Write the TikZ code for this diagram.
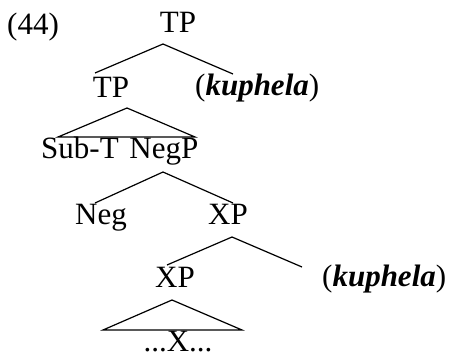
\documentclass[tikz,border=0pt]{standalone}
\usepackage{fontspec}
\setmainfont{Liberation Serif}
\begin{document}
\begin{tikzpicture}[x=1pt,y=-1pt,
  lab/.style={inner sep=0pt,anchor=base,font=\fontsize{31}{36}\selectfont},
  branch/.style={line width=1.2pt,line join=miter}]
\useasboundingbox (0,0) rectangle (453,358);
% labels
\node[lab,anchor=base west] (ex) at (7,35) {(44)};
\node[lab] (tp1) at (178,33) {TP};
\node[lab] (tp2) at (111,98) {TP};
\node[lab,anchor=base west] (ku1) at (195,96) {(\textbf{\textit{kuphela}})};
\node[lab,anchor=base west] (subt) at (41,159) {Sub-T\hspace{3pt} NegP};
\node[lab] (neg) at (101,225) {Neg};
\node[lab] (xp1) at (228,225) {XP};
\node[lab] (xp2) at (175,288) {XP};
\node[lab,anchor=base west] (ku2) at (322,287) {(\textbf{\textit{kuphela}})};
\node[lab] (xx) at (178,352) {...X...};
% branch points
\coordinate (a1) at (163,44);
\coordinate (l1) at (95,73);
\coordinate (r1) at (233,74);
\coordinate (a2) at (127,108);
\coordinate (l2) at (58,137);
\coordinate (r2) at (195,137);
\coordinate (a3) at (163,172);
\coordinate (l3) at (95,203);
\coordinate (r3) at (233,203);
\coordinate (a4) at (232,237);
\coordinate (l4) at (167,265);
\coordinate (r4) at (302,267);
\coordinate (a5) at (172,300);
\coordinate (l5) at (103,330);
\coordinate (r5) at (242,330);
% connectors
\draw[branch] (l1) -- (a1) -- (r1);
\draw[branch] (l2) -- (a2) -- (r2) -- cycle;
\draw[branch] (l3) -- (a3) -- (r3);
\draw[branch] (l4) -- (a4) -- (r4);
\draw[branch] (l5) -- (a5) -- (r5) -- cycle;
\end{tikzpicture}
\end{document}
